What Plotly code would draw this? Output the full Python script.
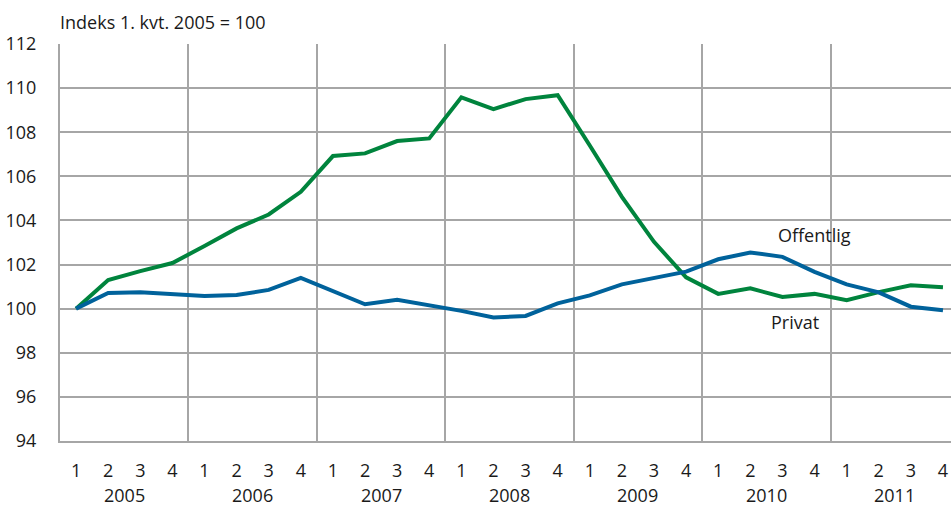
import plotly.graph_objects as go

years = ["2005", "2006", "2007", "2008", "2009", "2010", "2011"]
quarters = ["1", "2", "3", "4"]

offentlig = [100.0, 101.3, 101.7, 102.07, 102.84, 103.64, 104.27, 105.3,
             106.92, 107.04, 107.6, 107.72, 109.58, 109.05, 109.5, 109.68,
             107.4, 105.07, 103.03, 101.42, 100.67, 100.92, 100.53, 100.67,
             100.38, 100.75, 101.06, 100.97]
privat = [100.0, 100.71, 100.74, 100.65, 100.57, 100.62, 100.85, 101.4,
          100.8, 100.2, 100.4, 100.17, 99.9, 99.6, 99.67, 100.24,
          100.6, 101.1, 101.4, 101.68, 102.24, 102.55, 102.35, 101.67,
          101.1, 100.74, 100.09, 99.93]

n = len(offentlig)
xidx = list(range(n))
qlabels = [quarters[i % 4] for i in range(n)]

FONT = "Open Sans, sans-serif"
FS = 18
GREEN = "#00843D"
BLUE = "#00629B"
GRID = "#A6A6A6"

fig = go.Figure()
fig.add_trace(go.Scatter(x=xidx, y=offentlig, mode="lines", name="Offentlig",
                         line=dict(color=GREEN, width=4)))
fig.add_trace(go.Scatter(x=xidx, y=privat, mode="lines", name="Privat",
                         line=dict(color=BLUE, width=4)))
# invisible trace for year-boundary gridlines on secondary x axis
fig.add_trace(go.Scatter(x=[], y=[], xaxis="x2", showlegend=False))

year_bounds = [4 * k - 0.5 for k in range(1, len(years))]

fig.update_layout(
    width=951, height=506,
    margin=dict(l=60, r=0, t=44, b=65),
    paper_bgcolor="white", plot_bgcolor="white",
    showlegend=False,
    font=dict(family=FONT, size=FS, color="#1a1a1a"),
    xaxis=dict(range=[-0.5, 27.25], tickvals=xidx, ticktext=qlabels,
               showgrid=False, zeroline=False, showline=True,
               linecolor=GRID, linewidth=2, ticks="", ticklabelstandoff=12,
               tickfont=dict(size=FS)),
    xaxis2=dict(range=[-0.5, 27.25], overlaying="x", tickvals=year_bounds,
                showticklabels=False, showgrid=True, gridcolor=GRID,
                gridwidth=2, zeroline=False, showline=False, ticks=""),
    yaxis=dict(range=[94, 112], tickvals=list(range(94, 113, 2)),
               showgrid=True, gridcolor=GRID, gridwidth=2, zeroline=False,
               showline=True, linecolor=GRID, linewidth=2, ticks="",
               ticklabelstandoff=18, tickfont=dict(size=FS)),
)

annotations = [
    dict(text="Indeks 1. kvt. 2005 = 100", xref="paper", yref="paper",
         x=0, y=1, xanchor="left", yanchor="bottom", yshift=8, xshift=-2,
         showarrow=False, font=dict(size=FS)),
    dict(text="Offentlig", x=23, y=103.34, xref="x", yref="y",
         showarrow=False, font=dict(size=FS)),
    dict(text="Privat", x=22.4, y=99.4, xref="x", yref="y",
         showarrow=False, font=dict(size=FS)),
]
for k, yr in enumerate(years):
    annotations.append(dict(text=yr, x=4 * k + 1.5, y=0, xref="x", yref="paper",
                            yanchor="middle", yshift=-54, showarrow=False,
                            font=dict(size=FS)))
fig.update_layout(annotations=annotations)

fig.write_html("out.html", config={"displayModeBar": False},
               post_script="document.body.style.margin='0';document.body.style.overflow='hidden';")
